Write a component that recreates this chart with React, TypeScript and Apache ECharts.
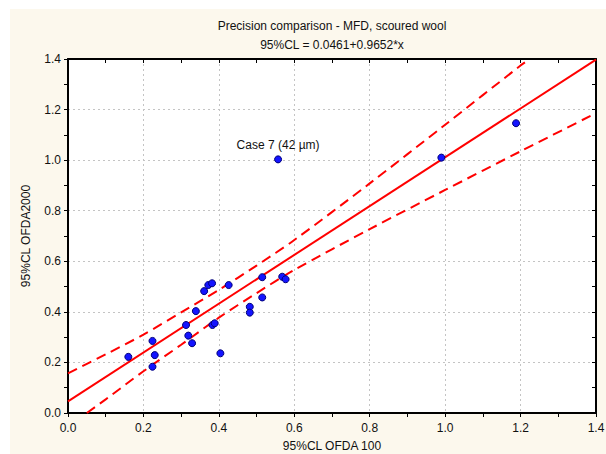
import React, { useEffect, useRef } from "react";
import * as echarts from "echarts";

const titleText = "Precision comparison - MFD, scoured wool";
const subtitleText = "95%CL = 0.0461+0.9652*x";
const xAxisName = "95%CL OFDA 100";
const yAxisName = "95%CL OFDA2000";
const annotationText = "Case 7 (42 µm)";

// Observed points (x = OFDA 100, y = OFDA2000)
const pointsX = [0.16, 0.224, 0.23, 0.224, 0.313, 0.319, 0.329, 0.339, 0.361, 0.372, 0.382, 0.383, 0.389, 0.404, 0.426, 0.482, 0.482, 0.515, 0.515, 0.568, 0.577, 0.557, 0.99, 1.188];
const pointsY = [0.222, 0.285, 0.229, 0.183, 0.348, 0.306, 0.276, 0.403, 0.482, 0.506, 0.513, 0.348, 0.355, 0.236, 0.506, 0.42, 0.397, 0.537, 0.457, 0.539, 0.529, 1.003, 1.01, 1.146];
const annotatedIndex = 21;

// Fitted line end points
const fitX = [0, 1.4];
const fitY = [0.0461, 1.3974];

// Confidence bands
const upperX = [0, 0.1, 0.2, 0.3, 0.4, 0.5, 0.6, 0.8, 1.0, 1.2, 1.225];
const upperY = [0.157, 0.232, 0.31, 0.398, 0.487, 0.583, 0.684, 0.908, 1.14, 1.374, 1.4];
const lowerX = [0.05, 0.1, 0.2, 0.3, 0.4, 0.5, 0.6, 0.8, 1.0, 1.2, 1.4];
const lowerY = [0.0, 0.054, 0.165, 0.27, 0.377, 0.474, 0.566, 0.727, 0.882, 1.035, 1.186];

const zip = (xs: number[], ys: number[]) => xs.map((x, i) => [x, ys[i]]);

const axisMin = 0;
const axisMax = 1.4;
const axisInterval = 0.2;

export default function App() {
  const ref = useRef<HTMLDivElement>(null);
  useEffect(() => {
    if (!ref.current) return;
    const chart = echarts.init(ref.current, undefined, { renderer: "svg" });
    const font = "Liberation Sans, Arial, sans-serif";
    const tickStyle = { color: "#000", width: 1 };
    const baseAxis = {
      min: axisMin,
      max: axisMax,
      interval: axisInterval,
      axisLine: { show: true, onZero: false, lineStyle: { color: "#000", width: 2 } },
    };
    const scatterData = zip(pointsX, pointsY).map((p, i) =>
      i === annotatedIndex
        ? {
            value: p,
            label: {
              show: true,
              formatter: annotationText,
              position: "top",
              distance: 4,
              color: "#111",
              fontSize: 12,
              fontFamily: font,
            },
          }
        : { value: p }
    );
    chart.setOption({
      animation: false,
      backgroundColor: "#ffffff",
      textStyle: { fontFamily: font },
      graphic: [
        {
          type: "rect",
          z: -10,
          silent: true,
          shape: { x: 10, y: 9, width: 596, height: 445 },
          style: { fill: "#fcf8ed" },
        },
        {
          type: "text",
          x: 332,
          y: 26,
          style: { text: titleText, fill: "#111", font: `12px ${font}`, textAlign: "center", textVerticalAlign: "middle" },
        },
        {
          type: "text",
          x: 332,
          y: 45,
          style: { text: subtitleText, fill: "#111", font: `12px ${font}`, textAlign: "center", textVerticalAlign: "middle" },
        },
      ],
      grid: {
        left: 68,
        right: 10,
        top: 59,
        bottom: 41,
        show: true,
        backgroundColor: "#ffffff",
        borderWidth: 0,
        containLabel: false,
        outerBoundsMode: "none",
      },
      xAxis: [
        {
          ...baseAxis,
          type: "value",
          position: "bottom",
          name: xAxisName,
          nameLocation: "middle",
          nameGap: 27,
          nameTextStyle: { color: "#111", fontSize: 12, fontFamily: font },
          axisTick: { show: true, inside: false, length: 4, lineStyle: tickStyle },
          minorTick: { show: true, splitNumber: 2, length: 4, lineStyle: tickStyle },
          axisLabel: { color: "#111", fontSize: 12, margin: 9, formatter: (v: number) => v.toFixed(1) },
          splitLine: { show: true, lineStyle: { color: "#c4c4c4", type: [2, 3], width: 1 } },
        },
        {
          ...baseAxis,
          type: "value",
          position: "top",
          axisTick: { show: true, inside: true, length: 4, lineStyle: tickStyle },
          minorTick: { show: true, splitNumber: 2, length: 4, lineStyle: tickStyle },
          axisLabel: { show: false },
          splitLine: { show: false },
        },
      ],
      yAxis: [
        {
          ...baseAxis,
          type: "value",
          position: "left",
          name: yAxisName,
          nameLocation: "middle",
          nameGap: 36,
          nameTextStyle: { color: "#111", fontSize: 12, fontFamily: font },
          axisTick: { show: true, inside: false, length: 4, lineStyle: tickStyle },
          minorTick: { show: true, splitNumber: 2, length: 4, lineStyle: tickStyle },
          axisLabel: { color: "#111", fontSize: 12, margin: 7, formatter: (v: number) => v.toFixed(1) },
          splitLine: { show: true, lineStyle: { color: "#c4c4c4", type: [2, 3], width: 1 } },
        },
        {
          ...baseAxis,
          type: "value",
          position: "right",
          axisTick: { show: true, inside: true, length: 4, lineStyle: tickStyle },
          minorTick: { show: true, splitNumber: 2, length: 4, lineStyle: tickStyle },
          axisLabel: { show: false },
          splitLine: { show: false },
        },
      ],
      series: [
        {
          type: "line",
          data: zip(fitX, fitY),
          symbol: "none",
          lineStyle: { color: "#ff0000", width: 2 },
          clip: true,
          z: 3,
        },
        {
          type: "line",
          data: zip(upperX, upperY),
          symbol: "none",
          smooth: 0.3,
          lineStyle: { color: "#ff0000", width: 2, type: [10, 6] },
          clip: true,
          z: 3,
        },
        {
          type: "line",
          data: zip(lowerX, lowerY),
          symbol: "none",
          smooth: 0.3,
          lineStyle: { color: "#ff0000", width: 2, type: [10, 6] },
          clip: true,
          z: 3,
        },
        {
          type: "scatter",
          data: scatterData,
          symbol: "circle",
          symbolSize: 7,
          itemStyle: { color: "#1414ff", borderColor: "#00007a", borderWidth: 1, opacity: 1 },
          z: 5,
        },
      ],
    });
    return () => chart.dispose();
  }, []);
  return (
    <div style={{ position: "fixed", left: 0, top: 0, width: 606, height: 454, background: "#fff" }}>
      <div ref={ref} style={{ width: 606, height: 454 }} />
    </div>
  );
}
